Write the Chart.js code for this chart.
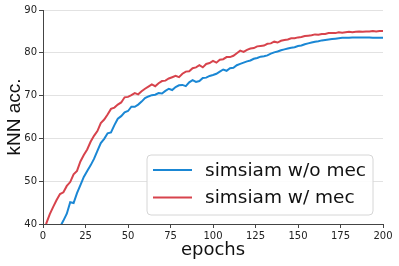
<!DOCTYPE html>
<html>
<head>
<meta charset="utf-8">
<script src="https://cdn.jsdelivr.net/npm/chart.js@4"></script>
<style>
  html, body { margin: 0; padding: 0; background: #fff; }
  #wrap { width: 399px; height: 266px; }
</style>
</head>
<body>
<div id="wrap"><canvas id="myChart" width="399" height="266"></canvas></div>
<script>
const epochs = [0,2,4,6,8,10,12,14,16,18,20,22,24,26,28,30,32,34,36,38,40,42,44,46,48,50,52,54,56,58,60,62,64,66,68,70,72,74,76,78,80,82,84,86,88,90,92,94,96,98,100,102,104,106,108,110,112,114,116,118,120,122,124,126,128,130,132,134,136,138,140,142,144,146,148,150,152,154,156,158,160,162,164,166,168,170,172,174,176,178,180,182,184,186,188,190,192,194,196,198,200];

const withoutMec = [null,null,null,null,null,39.3,40.8,42.4,45.1,44.9,47.2,49.1,51.0,52.4,53.7,55.2,57.1,58.9,59.9,61.2,61.4,63.1,64.6,65.2,66.1,66.4,67.4,67.4,67.9,68.6,69.4,69.8,70.1,70.2,70.6,70.5,71.1,71.6,71.3,72.0,72.4,72.5,72.2,73.1,73.6,73.2,73.4,74.1,74.2,74.6,74.8,75.1,75.6,76.1,75.8,76.4,76.5,77.1,77.4,77.7,78.0,78.2,78.6,78.8,79.1,79.2,79.4,79.8,80.1,80.3,80.6,80.8,81.0,81.2,81.3,81.6,81.7,82.0,82.2,82.4,82.6,82.7,82.9,83.0,83.1,83.2,83.3,83.4,83.5,83.5,83.5,83.6,83.6,83.6,83.6,83.6,83.6,83.5,83.5,83.5,83.5];

const withMec = [36.5,40.2,42.3,44.0,45.6,47.0,47.4,48.9,49.8,51.6,52.4,54.6,56.1,57.4,59.2,60.6,61.7,63.6,64.4,65.6,66.9,67.2,67.9,68.4,69.6,69.7,70.1,70.6,70.3,71.0,71.6,72.1,72.6,72.2,72.9,73.4,73.5,74.0,74.3,74.6,74.3,75.1,75.6,75.7,76.4,76.6,77.1,76.6,77.4,77.6,78.1,77.7,78.4,78.5,79.0,79.0,79.3,79.9,80.5,80.2,80.7,81.0,81.1,81.5,81.6,81.7,82.1,82.2,82.6,82.4,82.8,83.0,83.1,83.4,83.4,83.6,83.7,83.9,84.0,84.1,84.3,84.2,84.4,84.4,84.6,84.6,84.6,84.8,84.7,84.8,84.9,84.8,84.9,85.0,84.9,85.0,85.0,85.1,85.0,85.1,85.1];

const seriesNames = ['simsiam w/o mec', 'simsiam w/ mec'];
const xTicks = [0, 25, 50, 75, 100, 125, 150, 175, 200];
const yTicks = [40, 50, 60, 70, 80, 90];

const BLUE = 'rgb(26,135,212)';
const RED = 'rgb(215,67,76)';

function toPoints(vals) {
  return epochs.map((e, i) => ({ x: e, y: vals[i] }));
}

// legend box drawn inside the plot, lower right, like matplotlib's
const boxLegend = {
  id: 'boxLegend',
  afterDatasetsDraw(chart) {
    const { ctx, chartArea } = chart;
    const w = 226, h = 60;
    const x = chartArea.right - 10 - w;
    const y = chartArea.bottom - 9 - h;
    ctx.save();
    ctx.beginPath();
    ctx.roundRect(x, y, w, h, 4);
    ctx.fillStyle = 'rgba(255,255,255,0.9)';
    ctx.fill();
    ctx.strokeStyle = '#d6d6d6';
    ctx.lineWidth = 1;
    ctx.stroke();
    ctx.font = '18.5px "DejaVu Sans"';
    ctx.textBaseline = 'middle';
    chart.data.datasets.forEach((ds, i) => {
      const rowY = y + 15 + i * 27.5;
      ctx.strokeStyle = ds.borderColor;
      ctx.lineWidth = 2;
      ctx.beginPath();
      ctx.moveTo(x + 6, rowY);
      ctx.lineTo(x + 45, rowY);
      ctx.stroke();
      ctx.fillStyle = '#111';
      ctx.fillText(ds.label, x + 58, rowY + 1);
    });
    ctx.restore();
  }
};

const ctx = document.getElementById('myChart').getContext('2d');

new Chart(ctx, {
  type: 'line',
  data: {
    datasets: [
      { label: seriesNames[0], data: toPoints(withoutMec), borderColor: BLUE, backgroundColor: BLUE, borderWidth: 2, pointRadius: 0, tension: 0 },
      { label: seriesNames[1], data: toPoints(withMec), borderColor: RED, backgroundColor: RED, borderWidth: 2, pointRadius: 0, tension: 0 }
    ]
  },
  options: {
    responsive: false,
    animation: false,
    layout: { padding: { top: 10, right: 16, left: 0, bottom: 0 } },
    plugins: { legend: { display: false }, tooltip: { enabled: false } },
    scales: {
      x: {
        type: 'linear',
        min: 0,
        max: 200,
        afterFit: s => { s.height = 42; },
        afterBuildTicks: s => { s.ticks = xTicks.map(v => ({ value: v })); },
        ticks: { color: '#222', font: { family: 'DejaVu Sans', size: 10 }, padding: 2, maxRotation: 0 },
        grid: { drawOnChartArea: false, drawTicks: true, tickLength: 4, tickColor: '#444' },
        border: { display: true, color: '#444', width: 1 },
        title: { display: true, text: 'epochs', color: '#111', font: { family: 'DejaVu Sans', size: 18 }, padding: { top: 0, bottom: 5 } }
      },
      y: {
        min: 40,
        max: 90,
        afterFit: s => { s.width = 43; },
        afterBuildTicks: s => { s.ticks = yTicks.map(v => ({ value: v })); },
        ticks: { color: '#222', font: { family: 'DejaVu Sans', size: 10 }, padding: 2 },
        grid: { color: '#e2e2e2', lineWidth: 1, drawTicks: true, tickLength: 4, tickColor: '#444' },
        border: { display: true, color: '#444', width: 1 },
        title: { display: true, text: 'kNN acc.', color: '#111', font: { family: 'Liberation Sans', size: 19 }, padding: { top: 3, bottom: 0 } }
      }
    }
  },
  plugins: [boxLegend]
});
</script>
</body>
</html>
